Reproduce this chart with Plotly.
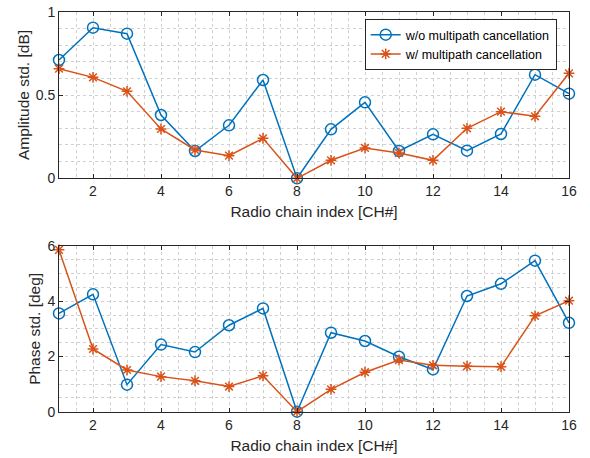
import plotly.graph_objects as go

# Radio chain indices
channels = list(range(1, 17))

# Amplitude standard deviation [dB]
amp_without = [0.71, 0.904, 0.868, 0.38, 0.164, 0.318, 0.59, 0.0,
               0.294, 0.456, 0.164, 0.264, 0.166, 0.266, 0.622, 0.508]
amp_with = [0.658, 0.606, 0.522, 0.296, 0.17, 0.136, 0.24, 0.0,
            0.108, 0.182, 0.152, 0.108, 0.30, 0.40, 0.372, 0.63]

# Phase standard deviation [deg]
phase_without = [3.56, 4.25, 0.98, 2.43, 2.16, 3.13, 3.74, 0.0,
                 2.86, 2.56, 1.99, 1.53, 4.19, 4.63, 5.47, 3.22]
phase_with = [5.86, 2.27, 1.51, 1.27, 1.12, 0.91, 1.30, 0.0,
              0.81, 1.43, 1.87, 1.68, 1.65, 1.63, 3.47, 4.02]

series_names = ["w/o multipath cancellation", "w/ multipath cancellation"]
x_title = "Radio chain index [CH#]"
y_titles = ["Amplitude std. [dB]", "Phase std. [deg]"]

BLUE = "#0072BD"
ORANGE = "#D95319"
AXCOL = "#262626"
GRIDCOL = "#d0d0d0"
FONT = "Liberation Sans, Arial, sans-serif"

W, H = 590, 458
left, right = 59.3, 569.3
rows = [(11.7, 178.3), (246.0, 411.7)]

fig = go.Figure()

datasets = [(amp_without, amp_with), (phase_without, phase_with)]
for i, (a, b) in enumerate(datasets):
    xa = "x" if i == 0 else "x2"
    ya = "y" if i == 0 else "y2"
    fig.add_trace(go.Scatter(
        x=channels, y=a, mode="lines+markers", name=series_names[0],
        line=dict(color=BLUE, width=1.5),
        marker=dict(symbol="circle-open", size=11, color=BLUE,
                    line=dict(width=1.5, color=BLUE)),
        cliponaxis=False, showlegend=(i == 0), xaxis=xa, yaxis=ya))
    fig.add_trace(go.Scatter(
        x=channels, y=b, mode="lines+markers", name=series_names[1],
        line=dict(color=ORANGE, width=1.5),
        marker=dict(symbol="asterisk-open", size=9, color=ORANGE,
                    line=dict(width=1.5, color=ORANGE)),
        cliponaxis=False, showlegend=(i == 0), xaxis=xa, yaxis=ya))


def dom_y(t, b):
    return [(H - b) / H, (H - t) / H]


def minor(step):
    return dict(dtick=step, showgrid=True, gridcolor=GRIDCOL,
                griddash="dot", ticklen=0)


common = dict(
    showline=True, linecolor=AXCOL, linewidth=1, mirror="ticks",
    ticks="inside", ticklen=4, tickcolor=AXCOL, tickwidth=1,
    showgrid=True, gridcolor=GRIDCOL, griddash="dot", gridwidth=1,
    zeroline=False, tickfont=dict(family=FONT, size=14, color=AXCOL),
    title_font=dict(family=FONT, size=15.5, color=AXCOL),
)

fig.update_layout(
    xaxis=dict(range=[1, 16], tickmode="linear", tick0=0, dtick=2,
               minor=minor(0.5), anchor="y",
               title=dict(text=x_title, standoff=8), **common),
    yaxis=dict(range=[0, 1], tickmode="linear", tick0=0, dtick=0.5,
               minor=minor(0.1), domain=dom_y(*rows[0]), anchor="x",
               title=dict(text=y_titles[0], standoff=2), **common),
    xaxis2=dict(range=[1, 16], tickmode="linear", tick0=0, dtick=2,
                minor=minor(0.5), anchor="y2",
                title=dict(text=x_title, standoff=8), **common),
    yaxis2=dict(range=[0, 6], tickmode="linear", tick0=0, dtick=2,
                minor=minor(0.5), domain=dom_y(*rows[1]), anchor="x2",
                title=dict(text=y_titles[1], standoff=2), **common),
)

fig.update_layout(
    width=W, height=H,
    margin=dict(l=left, r=W - right, t=0, b=0, autoexpand=False),
    paper_bgcolor="white", plot_bgcolor="white",
    font=dict(family=FONT, color=AXCOL),
    legend=dict(x=(557 - left) / (right - left), y=(H - 19) / H,
                xanchor="right", yanchor="top",
                bgcolor="white", bordercolor=AXCOL, borderwidth=1,
                font=dict(family=FONT, size=12.5, color="black"),
                tracegroupgap=0, itemwidth=30),
)

fig.write_html("out.html")
